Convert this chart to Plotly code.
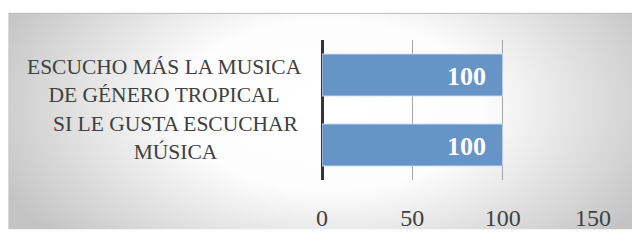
import plotly.graph_objects as go
import base64

# ---- data ----
categories = ["SI LE GUSTA ESCUCHAR<br>MÚSICA",
              "ESCUCHO MÁS LA MUSICA<br>DE GÉNERO TROPICAL"]
values = [100, 100]
tick_vals = [0, 50, 100, 150]
tick_text = ["0", "50", "100", "150"]

W, H = 632, 243
L, R, T, B = 322, 39, 40, 53
PW, PH = W - L - R, H - T - B

FONT = "Liberation Serif"

# background gradient as svg image
svg = f'''<svg xmlns="http://www.w3.org/2000/svg" width="{W}" height="{H}">
<defs><radialGradient id="g" gradientUnits="userSpaceOnUse" cx="330" cy="110" r="360"
gradientTransform="translate(330 110) scale(1 0.6) translate(-330 -110)">
<stop offset="0" stop-color="#ffffff"/><stop offset="0.42" stop-color="#fdfdfd"/>
<stop offset="1" stop-color="#c4c4c4"/></radialGradient></defs>
<rect x="0" y="0" width="{W}" height="{H}" fill="#ffffff"/>
<rect x="8" y="11" width="{W-8}" height="{H-11}" fill="url(#g)"/>
<line x1="8" y1="11.5" x2="{W}" y2="11.5" stroke="#bdbdbd" stroke-width="1"/>
<line x1="8.5" y1="11" x2="8.5" y2="{H}" stroke="#d8d8d8" stroke-width="1"/>
</svg>'''
uri = "data:image/svg+xml;base64," + base64.b64encode(svg.encode()).decode()

fig = go.Figure()
fig.add_trace(go.Bar(
    y=categories, x=values, orientation="h",
    marker=dict(color="rgb(103,148,199)", line=dict(color="rgba(205,222,242,0.9)", width=1)),
    hoverinfo="skip",
))

annotations = []
# category labels: centered two-line blocks to the left of the axis
block_shift = {categories[1]: -6, categories[0]: 7}
block_cx = {categories[1]: (164 - L) / PW, categories[0]: (176 - L) / PW}
for cat in categories:
    annotations.append(dict(
        x=block_cx[cat], xref="paper", xanchor="center", y=cat, yref="y",
        yanchor="middle", yshift=block_shift[cat], text=cat, showarrow=False,
        font=dict(family=FONT, size=21.5, color="#404040"), align="center"))
# data labels
for cat, v in zip(categories, values):
    annotations.append(dict(
        x=v, xref="x", xanchor="right", y=cat, yref="y", yanchor="middle",
        xshift=-15, yshift=-1, text=f"<b>{v}</b>", showarrow=False,
        font=dict(family=FONT, size=26, color="white")))

fig.update_layout(
    width=W, height=H,
    margin=dict(l=L, r=R, t=T, b=B, pad=0),
    paper_bgcolor="rgba(0,0,0,0)", plot_bgcolor="rgba(0,0,0,0)",
    bargap=0.4, showlegend=False,
    images=[dict(source=uri, xref="paper", yref="paper", x=-L / PW, y=1 + T / PH,
                 sizex=W / PW, sizey=H / PH, xanchor="left", yanchor="top",
                 sizing="stretch", layer="below")],
    annotations=annotations,
    xaxis=dict(range=[0, 150], tickvals=tick_vals, ticktext=tick_text,
               showgrid=True, gridcolor="#a6a6a6", gridwidth=1,
               zeroline=True, zerolinecolor="#333333", zerolinewidth=3,
               showline=False, ticks="outside", ticklen=16, tickcolor="rgba(0,0,0,0)",
               tickfont=dict(family=FONT, size=24, color="#404040"), fixedrange=True),
    yaxis=dict(showticklabels=False, showgrid=False, zeroline=False, showline=False,
               fixedrange=True),
)
fig.write_html("out.html", config={"displayModeBar": False},
               post_script="document.body.style.margin='0';")
